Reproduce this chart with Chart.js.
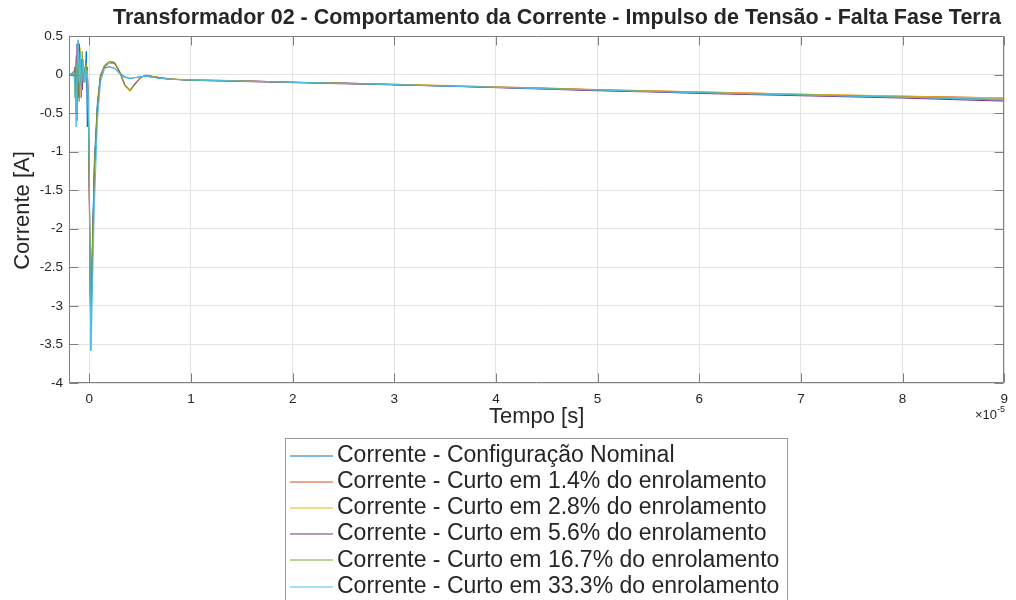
<!DOCTYPE html>
<html>
<head>
<meta charset="utf-8">
<script src="https://cdn.jsdelivr.net/npm/chart.js"></script>
<style>
  body { margin: 0; background: #ffffff; }
  #box { width: 1016px; height: 600px; }
</style>
</head>
<body>
<div id="box"><canvas id="grafico" width="1016" height="600"></canvas></div>
<script>
// tempo em unidades de 1e-5 s
var tempo = [-0.2, -0.17, -0.15, -0.14, -0.13, -0.12, -0.11, -0.1, -0.09, -0.08,
  -0.07, -0.06, -0.05, -0.04, -0.03, -0.02, -0.01, 0, 0.01, 0.015,
  0.02, 0.03, 0.05, 0.08, 0.11, 0.15, 0.2, 0.25, 0.3, 0.35,
  0.4, 0.45, 0.5, 0.55, 0.6, 0.7, 0.8, 1, 1.5, 2,
  2.5, 3, 3.5, 4, 4.5, 5, 5.5, 6, 6.5, 7,
  7.5, 8, 8.5, 9];

var nominal = [0, 0.01, 0.0, -0.02, 0.08, -0.15, 0.25, -0.3, 0.15, -0.1,
  0.08, -0.05, 0.04, 0.0, 0.3, -0.68, -0.4, -1.4, -2.9, -3.3,
  -3.1, -2.2, -1.1, -0.35, 0.0, 0.09, 0.1, 0.08, 0.02, -0.03,
  -0.05, -0.04, -0.03, -0.02, -0.03, -0.05, -0.06, -0.07, -0.08, -0.1,
  -0.11, -0.13, -0.15, -0.165, -0.185, -0.205, -0.22, -0.235, -0.25, -0.265,
  -0.28, -0.295, -0.31, -0.33];

var curto14 = [0, 0, 0.02, -0.1, 0.2, -0.4, 0.35, -0.2, 0.3, -0.3,
  0.1, 0.05, -0.1, 0.05, 0.0, 0.1, -0.3, -1.5, -2.8, -3.2,
  -2.9, -2.3, -1.3, -0.45, -0.05, 0.1, 0.15, 0.14, 0.03, -0.14,
  -0.21, -0.13, -0.05, -0.01, -0.02, -0.04, -0.06, -0.07, -0.08, -0.1,
  -0.11, -0.125, -0.145, -0.16, -0.175, -0.195, -0.21, -0.225, -0.24, -0.255,
  -0.27, -0.28, -0.29, -0.305];

var curto28 = [0, 0.01, 0.03, -0.15, 0.25, -0.35, 0.3, -0.25, 0.35, -0.2,
  0.15, -0.05, 0.05, -0.1, 0.05, 0.0, -0.35, -1.6, -2.9, -3.25,
  -3.0, -2.35, -1.25, -0.42, -0.03, 0.11, 0.16, 0.14, 0.02, -0.15,
  -0.22, -0.12, -0.04, -0.01, -0.02, -0.04, -0.055, -0.07, -0.085, -0.1,
  -0.115, -0.13, -0.14, -0.16, -0.18, -0.2, -0.21, -0.225, -0.24, -0.255,
  -0.265, -0.28, -0.295, -0.3];

var curto56 = [0, 0, -0.02, 0.1, -0.5, 0.4, -0.3, 0.4, -0.1, 0.2,
  -0.2, 0.1, 0.0, 0.1, -0.05, 0.05, -0.45, -1.7, -3.0, -3.35,
  -3.05, -2.25, -1.2, -0.4, -0.02, 0.12, 0.17, 0.15, 0.03, -0.14,
  -0.2, -0.12, -0.04, -0.01, -0.02, -0.045, -0.06, -0.075, -0.09, -0.105,
  -0.12, -0.135, -0.15, -0.17, -0.19, -0.21, -0.225, -0.245, -0.26, -0.275,
  -0.29, -0.305, -0.325, -0.345];

var curto167 = [0, 0.02, 0.05, -0.3, 0.15, -0.6, 0.45, -0.35, 0.2, -0.15,
  0.3, -0.1, 0.1, -0.05, 0.15, -0.1, -0.35, -1.55, -2.85, -3.2,
  -3.0, -2.3, -1.2, -0.4, -0.02, 0.12, 0.17, 0.16, 0.04, -0.13,
  -0.2, -0.11, -0.04, -0.01, -0.02, -0.04, -0.06, -0.075, -0.085, -0.1,
  -0.115, -0.13, -0.145, -0.165, -0.18, -0.2, -0.215, -0.23, -0.25, -0.26,
  -0.275, -0.29, -0.305, -0.32];

var curto333 = [0, 0.0, 0.02, -0.2, -0.68, 0.1, 0.45, -0.1, 0.3, -0.2,
  0.05, 0.2, -0.1, 0.1, -0.05, 0.05, -0.3, -1.2, -3.0, -3.58,
  -3.45, -2.8, -1.7, -0.6, -0.1, 0.08, 0.1, 0.08, 0.0, -0.04,
  -0.05, -0.04, -0.03, -0.02, -0.03, -0.05, -0.06, -0.07, -0.085, -0.1,
  -0.115, -0.13, -0.15, -0.165, -0.185, -0.2, -0.22, -0.235, -0.25, -0.265,
  -0.28, -0.295, -0.31, -0.325];

var nomes = ['Corrente - Configuração Nominal',
  'Corrente - Curto em 1.4% do enrolamento',
  'Corrente - Curto em 2.8% do enrolamento',
  'Corrente - Curto em 5.6% do enrolamento',
  'Corrente - Curto em 16.7% do enrolamento',
  'Corrente - Curto em 33.3% do enrolamento'];
var series = [nominal, curto14, curto28, curto56, curto167, curto333];
var cores = ['#0072BD', '#D95319', '#EDB120', '#7E2F8E', '#77AC30', '#4DBEEE'];

var titulo = 'Transformador 02 - Comportamento da Corrente - Impulso de Tensão - Falta Fase Terra';
var rotuloX = 'Tempo [s]';
var rotuloY = 'Corrente [A]';

var fonte = '"Liberation Sans", Arial, Helvetica, sans-serif';

var mydatasets = [];
for (var j = 0; j < series.length; j++) {
  var pts = [];
  for (var k = 0; k < tempo.length; k++) {
    pts.push({ x: tempo[k], y: series[j][k] });
  }
  mydatasets.push({
    label: nomes[j],
    data: pts,
    borderColor: cores[j],
    borderWidth: 1,
    pointRadius: 0,
    tension: 0,
    fill: false,
    order: series.length - 1 - j   // a ultima serie fica por cima
  });
}

// fundo, moldura com marcas internas, textos e legenda
var molduraPlugin = {
  id: 'moldura',
  beforeDraw: function (chart) {
    var ctx = chart.ctx;
    ctx.save();
    ctx.fillStyle = '#ffffff';
    ctx.fillRect(0, 0, chart.width, chart.height);
    ctx.restore();
  },
  afterDraw: function (chart) {
    var ctx = chart.ctx;
    var a = chart.chartArea;
    var sx = chart.scales.x, sy = chart.scales.y;
    var L = Math.round(a.left) + 0.5, R = Math.round(a.right) - 0.5;
    var T = Math.round(a.top) + 0.5, B = Math.round(a.bottom) - 0.5;
    var tick = 9;

    ctx.save();
    ctx.strokeStyle = '#808080';
    ctx.lineWidth = 1;
    ctx.beginPath();
    ctx.rect(L, T, R - L, B - T);
    sx.ticks.forEach(function (t) {
      var px = Math.round(sx.getPixelForValue(t.value)) + 0.5;
      ctx.moveTo(px, B); ctx.lineTo(px, B - tick);
      ctx.moveTo(px, T); ctx.lineTo(px, T + tick);
    });
    sy.ticks.forEach(function (t) {
      var py = Math.round(sy.getPixelForValue(t.value)) + 0.5;
      ctx.moveTo(L, py); ctx.lineTo(L + tick, py);
      ctx.moveTo(R, py); ctx.lineTo(R - tick, py);
    });
    ctx.stroke();

    ctx.fillStyle = '#262626';
    ctx.textBaseline = 'middle';

    // titulo
    ctx.font = 'bold 21.5px ' + fonte;
    ctx.textAlign = 'center';
    ctx.fillText(titulo, 557, 18);

    // eixos
    ctx.font = '22px ' + fonte;
    ctx.fillText(rotuloX, (a.left + a.right) / 2, 417);
    ctx.save();
    ctx.translate(23, (a.top + a.bottom) / 2 + 1);
    ctx.rotate(-Math.PI / 2);
    ctx.fillText(rotuloY, 0, 0);
    ctx.restore();

    // multiplicador do eixo x
    ctx.textBaseline = 'alphabetic';
    ctx.textAlign = 'right';
    ctx.font = '13px ' + fonte;
    ctx.fillText('×10', 997, 419);
    ctx.textAlign = 'left';
    ctx.font = '9px ' + fonte;
    ctx.fillText('-5', 997, 412);

    // legenda
    var lx = 285, ly = 438, lw = 502, passo = 26.2;
    ctx.fillStyle = '#ffffff';
    ctx.fillRect(lx, ly, lw, 200);
    ctx.strokeStyle = '#999999';
    ctx.strokeRect(lx + 0.5, ly + 0.5, lw, 200);
    ctx.font = '23px ' + fonte;
    ctx.textBaseline = 'middle';
    ctx.textAlign = 'left';
    for (var i = 0; i < nomes.length; i++) {
      var yy = ly + 17.5 + i * passo;
      ctx.strokeStyle = cores[i];
      ctx.lineWidth = 1;
      ctx.beginPath();
      ctx.moveTo(290, Math.round(yy));
      ctx.lineTo(333, Math.round(yy));
      ctx.stroke();
      ctx.fillStyle = '#262626';
      ctx.fillText(nomes[i], 337, yy);
    }
    ctx.restore();
  }
};

var ctxGrafico = document.getElementById('grafico').getContext('2d');
var grafico = new Chart(ctxGrafico, {
  type: 'line',
  data: { datasets: mydatasets },
  options: {
    responsive: false,
    animation: false,
    layout: { padding: { left: 0, top: 36, right: 11, bottom: 187 } },
    plugins: {
      legend: { display: false },
      title: { display: false },
      tooltip: { enabled: false }
    },
    scales: {
      x: {
        type: 'linear',
        min: -0.2,
        max: 9,
        afterFit: function (s) { s.height = 30; },
        border: { display: false },
        grid: { color: '#e3e3e3', drawTicks: false },
        ticks: {
          stepSize: 1,
          includeBounds: false,
          padding: 8,
          color: '#262626',
          font: { family: fonte, size: 13.5 },
          callback: function (v) { return String(v); }
        }
      },
      y: {
        min: -4,
        max: 0.5,
        afterFit: function (s) { s.width = 69; },
        border: { display: false },
        grid: { color: '#e3e3e3', drawTicks: false },
        ticks: {
          stepSize: 0.5,
          padding: 6,
          color: '#262626',
          font: { family: fonte, size: 13.5 },
          callback: function (v) { return String(v); }
        }
      }
    }
  },
  plugins: [molduraPlugin]
});
</script>
</body>
</html>
